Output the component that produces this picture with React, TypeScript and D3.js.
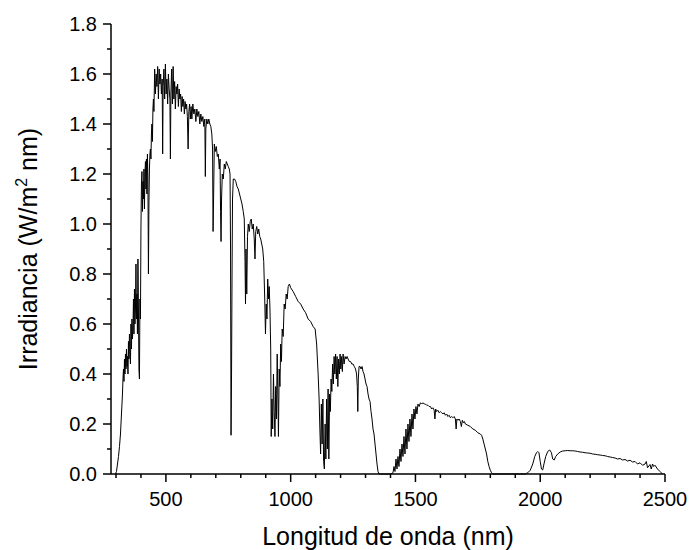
import React from "react";
import * as d3 from "d3";

// ---- data: solar spectral irradiance (wavelength nm, W/m² nm) ----
const uvBlue: [number, number][] = [
  [298,0],[302,0.01],[306,0.04],[310,0.07],[314,0.11],[318,0.16],[322,0.24],[326,0.32],[328,0.38],[330,0.42],
  [332,0.37],[334,0.46],[336,0.40],[338,0.48],[340,0.42],[342,0.50],[344,0.43],[346,0.47],[348,0.40],[350,0.53],
  [352,0.46],[354,0.56],[356,0.48],[358,0.44],[360,0.60],[362,0.50],[364,0.62],[366,0.54],[368,0.58],[370,0.70],
  [372,0.56],[374,0.74],[376,0.60],[378,0.66],[380,0.84],[382,0.62],[384,0.72],[386,0.56],[388,0.86],[390,0.66],
  [392,0.42],[394,0.38],[396,0.70],[398,0.62],[400,0.98],[402,1.16],[404,1.21],[406,1.05],[408,1.17],[410,1.10],
  [412,1.22],[414,1.06],[416,1.20],[418,1.25],[420,1.14],[422,1.26],[424,1.12],[426,1.28],[428,1.18],[430,0.80],
  [432,1.08],[434,1.22],[436,1.28],[438,1.30],[440,1.26],[442,1.36],[444,1.40],[446,1.33],[448,1.46],[450,1.50],
  [452,1.45],[455,1.62],[458,1.52],[461,1.60],[464,1.55],[467,1.63],[470,1.50],[473,1.62],[476,1.56],[479,1.60],
  [482,1.52],[485,1.58],[487,1.28],[489,1.55],[492,1.62],[495,1.50],[498,1.64],[501,1.52],[504,1.58],[507,1.48],
  [510,1.60],[513,1.54],[516,1.50],[518,1.26],[520,1.52],[523,1.62],[526,1.48],[529,1.63],[532,1.50],[535,1.57],
  [538,1.46],[541,1.55],[544,1.52],[547,1.56],[550,1.47],[553,1.54],[556,1.50],[559,1.52],[562,1.45],[565,1.51],
  [568,1.47],[571,1.50],[574,1.44],[577,1.49],[580,1.46],[583,1.48],[586,1.43],[589,1.30],[592,1.45],[595,1.48],
  [598,1.42],
];
const redNir: [number, number][] = [
  [601,1.47],[604,1.42],[608,1.48],[612,1.44],[616,1.46],[620,1.41],[624,1.46],[628,1.43],[632,1.45],[636,1.40],
  [640,1.44],[644,1.41],[648,1.43],[652,1.39],[656,1.42],[658,1.19],[660,1.38],[664,1.42],[668,1.40],[672,1.42],
  [676,1.40],[680,1.39],[684,1.36],[687,1.30],[689,0.97],[691,1.10],[694,1.32],[698,1.29],[702,1.31],[706,1.27],
  [710,1.28],[714,1.22],[717,1.26],[719,1.05],[721,0.93],[723,1.10],[726,1.20],[730,1.18],[734,1.24],[738,1.22],
  [742,1.25],[746,1.24],[750,1.23],[754,1.22],[757,1.20],[759,0.90],[761,0.155],[763,0.40],[765,0.80],[767,1.10],
  [770,1.18],[775,1.18],[780,1.17],[785,1.15],[790,1.14],[795,1.12],[800,1.10],[805,1.08],[810,1.05],[814,1.02],
  [817,0.85],[819,0.68],[821,0.90],[824,0.72],[827,0.95],[830,1.00],[834,0.97],[838,1.01],[842,1.02],[846,0.98],
  [850,1.00],[854,0.94],[857,0.86],[860,0.97],[864,0.99],[868,0.96],[872,0.98],[876,0.95],[880,0.94],[884,0.92],
  [888,0.90],[892,0.85],[896,0.70],[899,0.56],[902,0.68],[905,0.62],[908,0.78],[911,0.70],[914,0.75],[917,0.66],
  [920,0.50],[922,0.15],[925,0.30],[928,0.18],[931,0.40],[934,0.25],[937,0.15],[940,0.35],[943,0.22],[946,0.48],
  [949,0.30],[951,0.15],[954,0.42],[957,0.35],[960,0.52],[963,0.45],[966,0.58],[970,0.55],[974,0.68],[978,0.66],
  [982,0.72],[986,0.70],[990,0.75],[995,0.76],
];
const nirBands: [number, number][] = [
  [1000,0.745],[1010,0.73],[1020,0.71],[1030,0.69],[1040,0.68],[1050,0.66],[1060,0.645],[1070,0.62],[1080,0.61],
  [1090,0.59],[1098,0.58],[1104,0.52],[1110,0.40],[1114,0.30],[1117,0.18],[1120,0.08],[1123,0.28],[1126,0.12],
  [1129,0.30],[1132,0.05],[1135,0.02],[1138,0.20],[1141,0.06],[1144,0.30],[1147,0.10],[1150,0.34],[1153,0.06],
  [1156,0.32],[1159,0.25],[1162,0.38],[1165,0.33],[1168,0.44],[1171,0.36],[1174,0.47],[1177,0.40],[1180,0.48],
  [1183,0.38],[1186,0.47],[1189,0.35],[1192,0.46],[1195,0.40],[1198,0.48],[1201,0.42],[1204,0.47],[1207,0.41],
  [1210,0.48],[1214,0.44],[1218,0.47],[1222,0.46],[1226,0.47],[1230,0.46],[1235,0.45],[1240,0.45],[1245,0.44],
  [1250,0.44],[1255,0.43],[1260,0.42],[1264,0.40],[1267,0.35],[1269,0.25],[1271,0.38],[1274,0.43],[1278,0.43],
  [1282,0.42],[1286,0.43],[1290,0.41],[1294,0.40],[1298,0.38],[1302,0.36],[1306,0.35],[1310,0.32],[1314,0.30],
  [1318,0.29],[1322,0.25],[1326,0.22],[1330,0.18],[1334,0.16],[1338,0.12],[1342,0.08],[1346,0.04],[1350,0.01],
  [1354,0],[1400,0],
];
const swir1: [number, number][] = [
  [1410,0.005],[1414,0.03],[1418,0.01],[1422,0.06],[1426,0.02],[1430,0.07],[1434,0.03],[1438,0.10],[1442,0.05],
  [1446,0.12],[1450,0.07],[1454,0.15],[1458,0.08],[1462,0.18],[1466,0.10],[1470,0.20],[1474,0.13],[1478,0.22],
  [1482,0.15],[1486,0.24],[1490,0.18],[1494,0.26],[1498,0.22],[1502,0.27],[1506,0.24],[1510,0.28],[1515,0.27],
  [1520,0.285],[1525,0.28],[1530,0.285],[1535,0.28],[1540,0.28],[1545,0.275],[1550,0.275],[1555,0.27],[1560,0.27],
  [1565,0.26],[1570,0.265],[1575,0.255],[1578,0.22],[1581,0.26],[1585,0.25],[1590,0.255],[1595,0.245],[1600,0.25],
  [1605,0.245],[1610,0.24],[1615,0.245],[1620,0.235],[1625,0.24],[1630,0.23],[1635,0.235],[1640,0.225],[1645,0.23],
  [1650,0.225],[1655,0.23],[1660,0.22],[1663,0.18],[1666,0.22],[1670,0.215],[1675,0.22],[1680,0.21],[1684,0.19],
  [1688,0.215],[1692,0.205],[1696,0.21],[1700,0.20],[1710,0.195],[1720,0.19],[1730,0.18],[1740,0.175],[1750,0.165],
  [1760,0.16],[1765,0.155],[1770,0.14],[1775,0.12],[1780,0.10],[1785,0.08],[1790,0.05],[1795,0.03],[1800,0.015],
  [1805,0.005],[1810,0],[1940,0],
];
const swir2: [number, number][] = [
  [1950,0.005],[1960,0.015],[1970,0.04],[1978,0.07],[1985,0.085],[1990,0.09],[1995,0.085],[2000,0.05],[2005,0.02],
  [2010,0.016],[2015,0.04],[2022,0.07],[2030,0.09],[2038,0.096],[2045,0.085],[2050,0.06],[2056,0.056],[2062,0.07],
  [2070,0.08],[2080,0.088],[2090,0.092],[2100,0.093],[2110,0.094],[2120,0.093],[2130,0.093],[2140,0.092],[2150,0.09],
  [2160,0.088],[2170,0.087],[2180,0.085],[2190,0.084],[2200,0.083],[2210,0.08],[2220,0.079],[2230,0.077],[2240,0.076],
  [2250,0.074],[2260,0.073],[2270,0.07],[2280,0.068],[2290,0.066],[2300,0.064],[2310,0.06],[2320,0.062],[2330,0.056],
  [2340,0.058],[2350,0.052],[2360,0.055],[2370,0.048],[2380,0.05],[2390,0.04],[2400,0.045],[2410,0.035],[2420,0.04],
  [2425,0.05],[2430,0.025],[2440,0.038],[2445,0.02],[2450,0.04],[2455,0.03],[2460,0.035],[2470,0.02],[2480,0.01],
  [2490,0],
];

const xMajorTicks = [500, 1000, 1500, 2000, 2500];
const xMinorTicks = [300, 400, 600, 700, 800, 900, 1100, 1200, 1300, 1400, 1600, 1700, 1800, 1900, 2100, 2200, 2300, 2400];
const yMajorTicks = [0, 0.2, 0.4, 0.6, 0.8, 1.0, 1.2, 1.4, 1.6, 1.8];
const yMinorTicks = [0.1, 0.3, 0.5, 0.7, 0.9, 1.1, 1.3, 1.5, 1.7];
const xTitle = "Longitud de onda (nm)";

const W = 691, H = 550;
const L = 111, R = 665, T = 24, B = 474;
const FONT = "'Liberation Sans', Arial, sans-serif";

export default function App() {
  const data = [...uvBlue, ...redNir, ...nirBands, ...swir1, ...swir2];
  const x = d3.scaleLinear().domain([280, 2500]).range([L, R]);
  const y = d3.scaleLinear().domain([0, 1.8]).range([B, T]);
  const line = d3.line<[number, number]>().x(d => x(d[0])).y(d => y(d[1]));
  const fmt = d3.format(".1f");
  return (
    <svg width={W} height={H} style={{ position: "absolute", left: 0, top: 0, background: "#fff" }} fontFamily={FONT}>
      <rect width={W} height={H} fill="#fff" />
      <path d={line(data) || ""} fill="none" stroke="#000" strokeWidth={1} strokeLinejoin="round" />
      {/* axes */}
      <line x1={L} x2={R} y1={B} y2={B} stroke="#000" strokeWidth={1.5} />
      <line x1={L} x2={L} y1={B} y2={T} stroke="#000" strokeWidth={1.5} />
      {xMajorTicks.map(t => (
        <g key={"xm" + t}>
          <line x1={x(t)} x2={x(t)} y1={B} y2={B + 8} stroke="#000" strokeWidth={1.5} />
          <text x={x(t)} y={B + 32} textAnchor="middle" fontSize={20}>{t}</text>
        </g>
      ))}
      {xMinorTicks.map(t => (
        <line key={"xn" + t} x1={x(t)} x2={x(t)} y1={B} y2={B + 4} stroke="#000" strokeWidth={1.5} />
      ))}
      {yMajorTicks.map(t => (
        <g key={"ym" + t}>
          <line x1={L - 8} x2={L} y1={y(t)} y2={y(t)} stroke="#000" strokeWidth={1.5} />
          <text x={L - 14} y={y(t) + 7} textAnchor="end" fontSize={20}>{fmt(t)}</text>
        </g>
      ))}
      {yMinorTicks.map(t => (
        <line key={"yn" + t} x1={L - 4} x2={L} y1={y(t)} y2={y(t)} stroke="#000" strokeWidth={1.5} />
      ))}
      <text x={(L + R) / 2} y={545} textAnchor="middle" fontSize={25}>{xTitle}</text>
      <text transform={`translate(37,${(T + B) / 2}) rotate(-90)`} textAnchor="middle" fontSize={25}>
        Irradiancia (W/m<tspan fontSize={16} dy={-10}>2</tspan><tspan dy={10}> nm)</tspan>
      </text>
    </svg>
  );
}
